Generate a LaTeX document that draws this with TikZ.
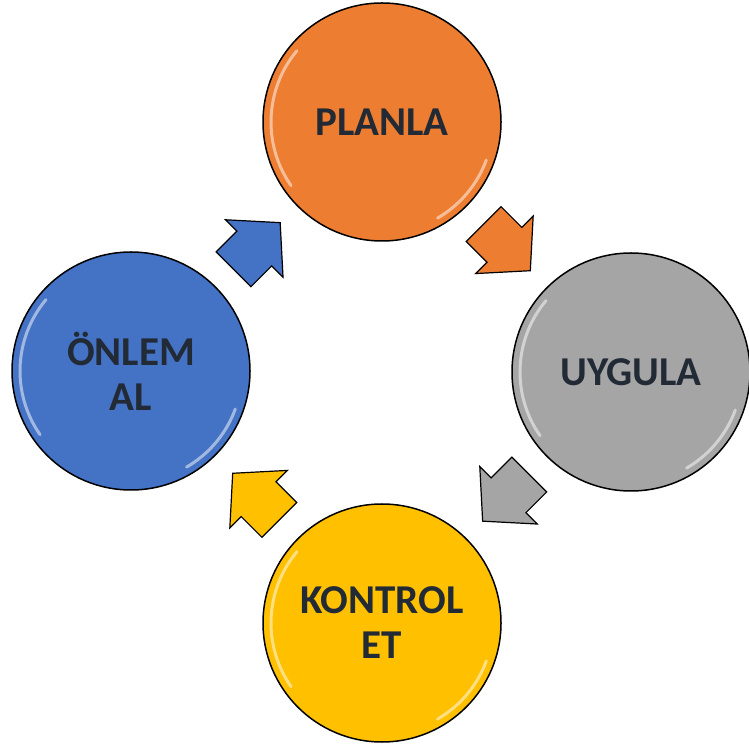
\documentclass[tikz,border=0pt]{standalone}
\usepackage{fontspec}
\setmainfont{Carlito}
\usepackage{xcolor}
\definecolor{cyink}{HTML}{222A35}
\definecolor{cyorange}{HTML}{ED7D31}
\definecolor{cygrey}{HTML}{A5A5A5}
\definecolor{cyyellow}{HTML}{FFC000}
\definecolor{cyblue}{HTML}{4472C4}
\usepackage{tikz}
\usetikzlibrary{calc,shapes.arrows}
\tikzset{
  cystage/.style ={circle, draw=black, line width=1.5pt, minimum size=238pt, inner sep=0pt,
                   align=center, text=cyink, font=\fontsize{41}{45}\selectfont\bfseries},
  cyarrow/.style ={single arrow, draw=black, line width=1.2pt, inner xsep=0pt, inner ysep=24pt,
                   single arrow head extend=16pt, single arrow tip angle=96, minimum height=66pt,
                   anchor=tail},
  cygloss/.style ={white, opacity=0.5, line width=3pt, line cap=round},
}
\newcommand{\cyshine}[1]{%
  \draw[cygloss] ($(#1.center)+(140:111pt)$) arc[start angle=140, end angle=215, radius=111pt];
  \draw[cygloss] ($(#1.center)+(-20:111pt)$) arc[start angle=-20, end angle=-60, radius=111pt];
}

\begin{document}
\begin{tikzpicture}[x=1pt,y=1pt]
  \useasboundingbox (0,0) rectangle (749,747);
  % the four stages of the cycle
  \node[cystage, fill=cyorange] (plan)    at (382,625) {PLANLA};
  \node[cystage, fill=cygrey]   (uygula)  at (631,375) {UYGULA};
  \node[cystage, fill=cyyellow] (kontrol) at (382,124) {KONTROL\\ET};
  \node[cystage, fill=cyblue]   (onlem)   at (131,376) {ÖNLEM\\AL};
  \cyshine{plan}
  \cyshine{uygula}
  \cyshine{kontrol}
  \cyshine{onlem}
  % block arrows between them, centred half way
  \coordinate (m1) at ($(plan)!0.5!(uygula)$);
  \coordinate (m2) at ($(uygula)!0.5!(kontrol)$);
  \coordinate (m3) at ($(kontrol)!0.5!(onlem)$);
  \coordinate (m4) at ($(onlem)!0.5!(plan)$);
  \node[cyarrow, fill=cyorange, rotate=-45]  (a1) at ($(m1)!33pt!(plan)$) {};
  \node[cyarrow, fill=cygrey, rotate=-135]   (a2) at ($(m2)!33pt!(uygula)$) {};
  \node[cyarrow, fill=cyyellow, rotate=135]  (a3) at ($(m3)!33pt!(kontrol)$) {};
  \node[cyarrow, fill=cyblue, rotate=45]     (a4) at ($(m4)!33pt!(onlem)$) {};
\end{tikzpicture}
\end{document}
